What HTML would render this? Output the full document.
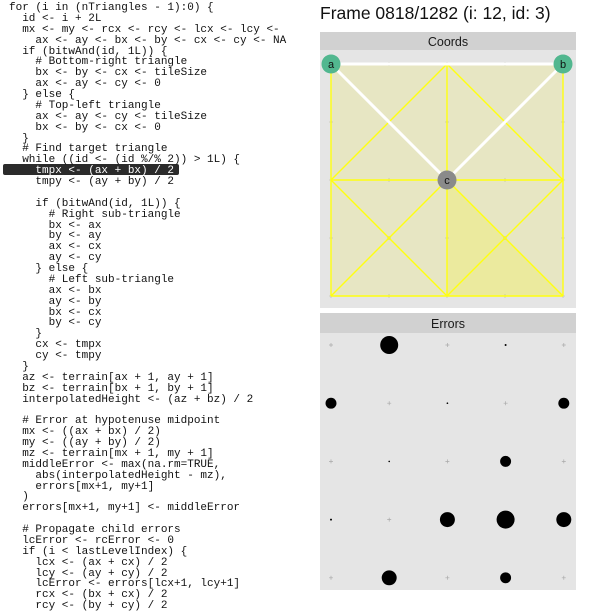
<!DOCTYPE html>
<html><head><meta charset="utf-8"><style>
body{margin:0;width:600px;height:600px;background:#fff;overflow:hidden;position:relative;font-family:"Liberation Sans",sans-serif}
#code{position:absolute;left:9px;top:3px;margin:0;font-family:"Liberation Mono",monospace;font-size:11px;line-height:10.87px;color:#111;white-space:pre}
#hl{position:absolute;left:3px;top:164px;width:176px;height:11px;background:#2b2b2b;border-radius:2px}
#title{position:absolute;left:320px;top:3px;font-size:17.5px;color:#111}
svg{position:absolute;left:0;top:0}
</style></head><body>
<div id="hl"></div>
<pre id="code">for (i in (nTriangles - 1):0) {
  id &lt;- i + 2L
  mx &lt;- my &lt;- rcx &lt;- rcy &lt;- lcx &lt;- lcy &lt;-
    ax &lt;- ay &lt;- bx &lt;- by &lt;- cx &lt;- cy &lt;- NA
  if (bitwAnd(id, 1L)) {
    # Bottom-right triangle
    bx &lt;- by &lt;- cx &lt;- tileSize
    ax &lt;- ay &lt;- cy &lt;- 0
  } else {
    # Top-left triangle
    ax &lt;- ay &lt;- cy &lt;- tileSize
    bx &lt;- by &lt;- cx &lt;- 0
  }
  # Find target triangle
  while ((id &lt;- (id %/% 2)) &gt; 1L) {
<span style="color:#fff">    tmpx &lt;- (ax + bx) / 2</span>
    tmpy &lt;- (ay + by) / 2

    if (bitwAnd(id, 1L)) {
      # Right sub-triangle
      bx &lt;- ax
      by &lt;- ay
      ax &lt;- cx
      ay &lt;- cy
    } else {
      # Left sub-triangle
      ax &lt;- bx
      ay &lt;- by
      bx &lt;- cx
      by &lt;- cy
    }
    cx &lt;- tmpx
    cy &lt;- tmpy
  }
  az &lt;- terrain[ax + 1, ay + 1]
  bz &lt;- terrain[bx + 1, by + 1]
  interpolatedHeight &lt;- (az + bz) / 2

  # Error at hypotenuse midpoint
  mx &lt;- ((ax + bx) / 2)
  my &lt;- ((ay + by) / 2)
  mz &lt;- terrain[mx + 1, my + 1]
  middleError &lt;- max(na.rm=TRUE,
    abs(interpolatedHeight - mz),
    errors[mx+1, my+1]
  )
  errors[mx+1, my+1] &lt;- middleError

  # Propagate child errors
  lcError &lt;- rcError &lt;- 0
  if (i &lt; lastLevelIndex) {
    lcx &lt;- (ax + cx) / 2
    lcy &lt;- (ay + cy) / 2
    lcError &lt;- errors[lcx+1, lcy+1]
    rcx &lt;- (bx + cx) / 2
    rcy &lt;- (by + cy) / 2</pre>
<div id="title">Frame 0818/1282 (i: 12, id: 3)</div>
<svg id="chart" width="600" height="600" xmlns="http://www.w3.org/2000/svg"></svg>
<script>
// Coords panel data (grid coords 0..4)
const triA = [0, 4];
const triB = [4, 4];
const triC = [2, 2];
const activeTri = [[2,2],[2,0],[4,0]];
const gridTicks = [0,1,2,3,4];
// Errors panel: grid cells and error magnitudes (radius^2)
const errCols = [0,1,2,3,4];
const errRows = [0,1,2,3,4]; // row 0 = top
const errValues = [
  [0, 81, 0, 1, 0],
  [30, 0, 0.7, 0, 30],
  [0, 0.7, 0, 30, 0],
  [1, 0, 56, 81, 56],
  [0, 56, 0, 30, 0]
];

const NS='http://www.w3.org/2000/svg';
const svg=document.getElementById('chart');
function mk(tag,attrs,parent){const e=document.createElementNS(NS,tag);for(const k in attrs)e.setAttribute(k,attrs[k]);(parent||svg).appendChild(e);return e;}
const cx=g=>331+58*g;
const cy=g=>296-58*g;
const ex=g=>331+58.2*g;
const ey=g=>345+58.2*g;

// Coords panel
let strip=mk('rect',{x:320,y:32,width:256,height:18,fill:'#d1d1d1'});


let st=mk('text',{x:448,y:46,'text-anchor':'middle','font-size':12.5,fill:'#1a1a1a'});st.textContent='Coords';


let pbg=mk('rect',{x:320,y:50,width:256,height:258,fill:'#e5e5e5'});


let tf=mk('rect',{x:cx(0),y:cy(4),width:cx(4)-cx(0),height:cy(0)-cy(4),fill:'#e7e6c3'});


let at=mk('polygon',{points:activeTri.map(p=>cx(p[0])+','+cy(p[1])).join(' '),fill:'#ebea9e'});


gridTicks.forEach(i=>gridTicks.forEach(j=>{
  let t=mk('path',{d:`M${cx(i)-2},${cy(j)}h4M${cx(i)},${cy(j)-2}v4`,stroke:'#b8b8a0','stroke-width':0.6});
  
  
}));
const segs=[[[0,0],[4,4]],[[0,4],[4,0]],[[2,0],[2,4]],[[0,2],[4,2]],[[2,4],[4,2]],[[4,2],[2,0]],[[2,0],[0,2]],[[0,2],[2,4]],[[0,0],[4,0]],[[4,0],[4,4]],[[4,4],[0,4]],[[0,4],[0,0]]];
segs.forEach(s=>{
  let l=mk('line',{x1:cx(s[0][0]),y1:cy(s[0][1]),x2:cx(s[1][0]),y2:cy(s[1][1]),stroke:'#ffff10','stroke-width':1.4});
  
  
});
[[triA,triB],[triA,triC],[triB,triC]].forEach(s=>{
  let l=mk('line',{x1:cx(s[0][0]),y1:cy(s[0][1]),x2:cx(s[1][0]),y2:cy(s[1][1]),stroke:'#ffffff','stroke-width':3});
  
  
});
[[triA,'a','#52b78f'],[triB,'b','#52b78f'],[triC,'c','#8a8a8a']].forEach(v=>{
  let c=mk('circle',{cx:cx(v[0][0]),cy:cy(v[0][1]),r:9.5,fill:v[2]});
  
  
  let t=mk('text',{x:cx(v[0][0]),y:cy(v[0][1])+4,'text-anchor':'middle','font-size':11,fill:'#111'});t.textContent=v[1];
  
  
});

// Errors panel
let es=mk('rect',{x:320,y:313,width:256,height:20,fill:'#d1d1d1'});


let et=mk('text',{x:448,y:328,'text-anchor':'middle','font-size':12.5,fill:'#1a1a1a'});et.textContent='Errors';


let eb=mk('rect',{x:320,y:333,width:256,height:257,fill:'#e5e5e5'});


errRows.forEach(r=>errCols.forEach(c=>{
  const v=errValues[r][c];
  if(v>0){
    let d=mk('circle',{cx:ex(c),cy:ey(r),r:Math.sqrt(v),fill:'#000'});
    
    
  } else {
    let t=mk('path',{d:`M${ex(c)-2},${ey(r)}h4M${ex(c)},${ey(r)-2}v4`,stroke:'#aaa','stroke-width':0.7});
    
    
  }
}));
</script>
</body></html>
